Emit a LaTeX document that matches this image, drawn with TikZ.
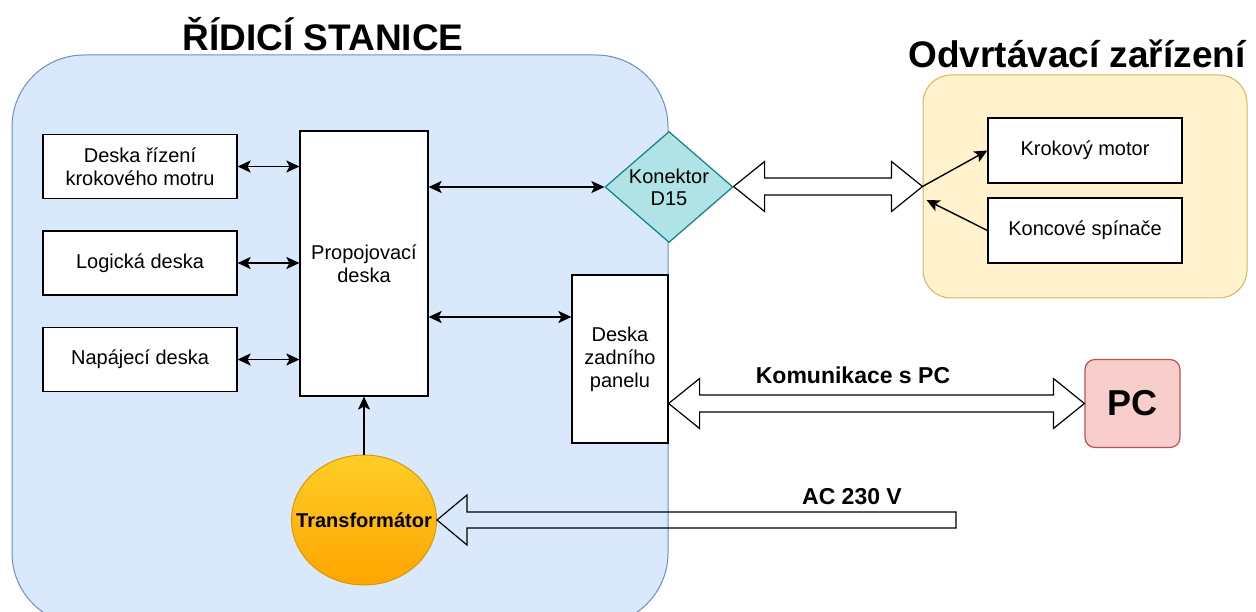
\documentclass[tikz,border=0pt]{standalone}
\usepackage{fontspec}
\setmainfont{Liberation Sans}
\usetikzlibrary{positioning,shapes.geometric,arrows.meta,calc}
\definecolor{stationfill}{HTML}{DAE8FC}
\definecolor{stationline}{HTML}{6C8EBF}
\definecolor{devfill}{HTML}{FFF2CC}
\definecolor{devline}{HTML}{D6B656}
\definecolor{connfill}{HTML}{B0E3E6}
\definecolor{connline}{HTML}{0E8088}
\definecolor{pcfill}{HTML}{F8CECC}
\definecolor{pcline}{HTML}{B85450}
\definecolor{trafotop}{HTML}{FFCD28}
\definecolor{trafobot}{HTML}{FFA500}
\definecolor{trafoline}{HTML}{D79B00}
\newcommand{\boardfont}{\fontsize{20}{23}\selectfont}
\newcommand{\titlefont}{\fontsize{37}{40}\selectfont\bfseries}
\newcommand{\lblfont}{\fontsize{23}{26}\selectfont\bfseries}
\tikzset{
  board/.style   = {draw, fill=white, line width=1.2pt, align=center,
                    font=\boardfont, inner sep=0pt},
  station/.style = {draw=stationline, fill=stationfill, line width=1pt,
                    rounded corners=72pt, minimum width=656pt, minimum height=570pt},
  device/.style  = {draw=devline, fill=devfill, line width=1pt,
                    rounded corners=28pt, minimum width=324pt, minimum height=223pt},
  conn/.style    = {diamond, draw=connline, fill=connfill, line width=1.2pt,
                    minimum width=128pt, minimum height=111pt, inner sep=0pt},
  trafo/.style   = {ellipse, draw=trafoline, line width=1pt, top color=trafotop,
                    bottom color=trafobot, minimum width=145pt, minimum height=130pt,
                    inner sep=0pt},
  pcbox/.style   = {draw=pcline, fill=pcfill, line width=1.2pt, rounded corners=10pt,
                    minimum width=95pt, minimum height=88pt, font=\fontsize{36}{40}\selectfont\bfseries},
  title/.style   = {font=\titlefont, inner sep=0pt},
  lbl/.style     = {font=\lblfont, inner sep=0pt},
  tip/.style     = {line width=1.4pt, -{Stealth[length=13pt, width=12pt, inset=3pt]}},
  both/.style    = {line width=1.4pt, {Stealth[length=13pt, width=12pt, inset=3pt]}-{Stealth[length=13pt, width=12pt, inset=3pt]}},
  flex/.style    = {draw=black, line width=1.2pt, line join=miter}
}
% wide hollow arrow with heads at both ends, level with the second point
\newcommand{\flexboth}[2]{%
  \draw[flex] let \p1=(#1), \p2=(#2) in
    (\x1,\y2) -- (\x1+31pt,\y2+25pt) -- (\x1+31pt,\y2+8.5pt)
    -- (\x2-31pt,\y2+8.5pt) -- (\x2-31pt,\y2+25pt) -- (\x2,\y2)
    -- (\x2-31pt,\y2-25pt) -- (\x2-31pt,\y2-8.5pt)
    -- (\x1+31pt,\y2-8.5pt) -- (\x1+31pt,\y2-25pt) -- cycle;}
% wide hollow arrow from a tail (#1) to a tip (#2) on its left
\newcommand{\flexone}[2]{%
  \draw[flex] let \p1=(#1), \p2=(#2) in
    (\x2,\y2) -- (\x2+30pt,\y2+25pt) -- (\x2+30pt,\y2+8pt)
    -- (\x1,\y2+8pt) -- (\x1,\y2-8pt) -- (\x2+30pt,\y2-8pt)
    -- (\x2+30pt,\y2-25pt) -- cycle;}

\begin{document}
\begin{tikzpicture}[x=1pt, y=-1pt]
	\useasboundingbox (0,0) rectangle (1256,612);
	\clip (0,0) rectangle (1256,612);

	\node[station] (ridici) at (340,340) {};
	\node[title, anchor=base] (ridicititle) at (323,51) {ŘÍDICÍ STANICE};

	\node[board, minimum width=194pt, minimum height=64pt] (motdriver) at (140,166.5) {Deska řízení\\krokového motru};
	\node[board, minimum width=194pt, minimum height=64pt] (logic) at (140,263) {Logická deska};
	\node[board, minimum width=194pt, minimum height=64pt] (power) at (140,359.5) {Napájecí deska};
	\node[board, minimum width=128pt, minimum height=265pt] (propoj) at (364,263.5) {Propojovací\\deska};
	\node[board, minimum width=96pt, minimum height=168pt] (zadni) at (620,359) {Deska\\zadního\\panelu};
	\node[conn, label={[font=\fontsize{20}{22}\selectfont, align=center]center:Konektor\\D15}] (d15) at (669,187) {};
	\node[trafo, label={[font=\boardfont\bfseries]center:Transformátor}] (trafo) at (364,520) {};

	\node[device] (odvrt) at (1085,186.5) {};
	\node[title, anchor=base] (odvrttitle) at (1077,68) {Odvrtávací zařízení};
	\node[board, minimum width=194pt, minimum height=65pt] (motor) at (1085,150.5) {Krokový motor};
	\node[board, minimum width=194pt, minimum height=65pt] (switches) at (1085,230.5) {Koncové spínače};

	\node[pcbox] (pc) at (1132.5,403.5) {PC};

	\draw[both] (motdriver.east) -- (propoj.west |- motdriver.east);
	\draw[both] (logic.east) -- (propoj.west |- logic.east);
	\draw[both] (power.east) -- (propoj.west |- power.east);
	\draw[both] (propoj.east |- d15.west) -- (d15.west);
	\coordinate (zadnitap) at ($(zadni.west)+(0,-42)$);
	\draw[both] (propoj.east |- zadnitap) -- (zadnitap);
	\draw[tip] (trafo.north) -- (propoj.south);

	\flexboth{d15.east}{odvrt.west}
	\draw[tip] (odvrt.west) -- (motor.west);
	\coordinate (switchtip) at ($(odvrt.west)+(4,13.5)$);
	\draw[tip] (switches.west) -- (switchtip);

	\flexboth{zadni.east}{pc.west}
	\node[lbl, anchor=base] (komlbl) at (853,384) {Komunikace s PC};

	\coordinate (mains) at (956,520);
	\flexone{mains}{trafo.east}
	\node[lbl, anchor=base] (aclbl) at (852,504) {AC 230 V};
\end{tikzpicture}
\end{document}
